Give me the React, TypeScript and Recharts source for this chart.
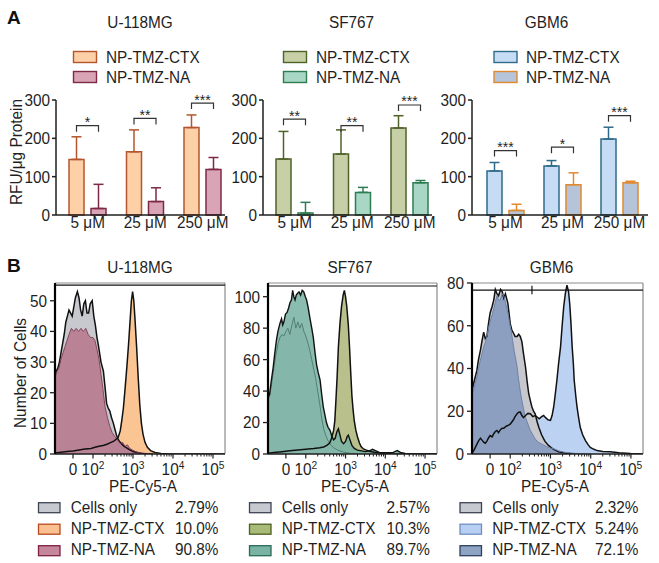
import { Area, Bar, BarChart, ComposedChart, ErrorBar, LabelList, ReferenceLine, XAxis, YAxis } from 'recharts'
import type { ReactNode } from 'react'

const FONT = '"Liberation Sans", Arial, Helvetica, sans-serif'
const INK = '#1f1f1f'
const FS = 16.5
const SX = 0.93
const BAR_GAP = 7

const cellLines = ['U-118MG', 'SF767', 'GBM6']
const doses = ['5 μM', '25 μM', '250 μM']
const treatments = ['NP-TMZ-CTX', 'NP-TMZ-NA']
const flowGroups = ['Cells only', 'NP-TMZ-CTX', 'NP-TMZ-NA']

// panel A: RFU/µg protein (mean, upper SD), bracket height, significance
const u118Ctx = [145, 165, 228]
const u118CtxErr = [59, 57, 33]
const u118Na = [17, 35, 119]
const u118NaErr = [63, 36, 31]
const u118Bracket = [233, 252, 292]
const u118Stars = ['*', '**', '***']

const sf767Ctx = [146, 159, 227]
const sf767CtxErr = [72, 63, 32]
const sf767Na = [5, 59, 84]
const sf767NaErr = [28, 13, 6]
const sf767Bracket = [250, 233, 287]
const sf767Stars = ['**', '**', '***']

const gbm6Ctx = [115, 128, 198]
const gbm6CtxErr = [22, 14, 31]
const gbm6Na = [12, 79, 84]
const gbm6NaErr = [16, 31, 4]
const gbm6Bracket = [168, 177, 259]
const gbm6Stars = ['***', '*', '***']

// panel B: PE-Cy5-A histograms, [display decade, cell count]
const u118CellsHist = [
  [1.05, 26], [1.08, 27], [1.12, 28], [1.16, 30], [1.2, 33], [1.24, 36], [1.28, 39], [1.32, 43], [1.36, 45],
  [1.4, 47], [1.44, 46], [1.48, 45], [1.52, 48], [1.56, 51], [1.61, 53], [1.65, 51], [1.69, 47], [1.73, 45],
  [1.77, 49], [1.81, 50], [1.85, 46], [1.89, 46], [1.93, 49], [1.98, 50], [2.02, 45], [2.06, 42], [2.1, 38],
  [2.14, 35], [2.2, 30], [2.26, 27], [2.3, 22], [2.34, 16.5], [2.38, 15], [2.42, 14], [2.46, 12], [2.51, 10],
  [2.55, 8], [2.59, 6], [2.64, 4.5], [2.7, 3.5], [2.78, 2.5], [2.9, 1.5], [3.0, 0.8], [3.2, 0.2], [3.5, 0],
]
const u118CtxHist = [
  [1.05, 0.3], [1.2, 0.6], [1.35, 0.8], [1.5, 1], [1.65, 1.3], [1.8, 1.6], [1.95, 1.8], [2.05, 2.2], [2.15, 2.5],
  [2.25, 2.8], [2.35, 3.2], [2.45, 3.8], [2.52, 4.2], [2.58, 4.8], [2.63, 5.5], [2.68, 7.5], [2.72, 11], [2.76, 15],
  [2.8, 21], [2.85, 29], [2.89, 36], [2.93, 44], [2.96, 50], [2.99, 53], [3.02, 50], [3.05, 44], [3.09, 35],
  [3.13, 25], [3.17, 16], [3.21, 10], [3.25, 6.5], [3.3, 3.8], [3.36, 2.2], [3.44, 1.1], [3.55, 0.5], [3.7, 0.2],
  [3.9, 0], [5.3, 0],
]
const u118NaHist = [
  [1.05, 25], [1.1, 27], [1.15, 28], [1.2, 31], [1.25, 33], [1.3, 35], [1.35, 37], [1.4, 39], [1.46, 41],
  [1.52, 40], [1.58, 41], [1.64, 40], [1.7, 41], [1.76, 40], [1.82, 41], [1.88, 39], [1.94, 38], [2.0, 38],
  [2.05, 37], [2.1, 34], [2.15, 31], [2.2, 26], [2.25, 21], [2.3, 15.5], [2.36, 12], [2.42, 9], [2.48, 7],
  [2.55, 5.6], [2.62, 4.5], [2.68, 3.4], [2.74, 3.8], [2.8, 2.5], [2.86, 3], [2.92, 1.8], [3.0, 1.2], [3.1, 0.6],
  [3.3, 0.2], [3.5, 0],
]

const sf767CellsHist = [
  [1.05, 34], [1.1, 38], [1.15, 46], [1.2, 55], [1.25, 63], [1.3, 70], [1.35, 74], [1.4, 76], [1.45, 75],
  [1.5, 78], [1.55, 80], [1.6, 76], [1.65, 82], [1.7, 87], [1.75, 80], [1.8, 84], [1.85, 80], [1.9, 83],
  [1.95, 78], [2.0, 75], [2.05, 71], [2.1, 66], [2.15, 60], [2.2, 54], [2.25, 48], [2.3, 40], [2.35, 32],
  [2.4, 23], [2.45, 16], [2.5, 12], [2.55, 9], [2.62, 6], [2.7, 4], [2.8, 2.5], [2.95, 1.2], [3.1, 0.5], [3.3, 0],
]
const sf767CtxHist = [
  [1.05, 0.5], [1.2, 1], [1.4, 1.5], [1.6, 2], [1.8, 2.5], [2.0, 3], [2.2, 3.5], [2.35, 4], [2.45, 4.5],
  [2.53, 5.5], [2.6, 7], [2.65, 10], [2.7, 15], [2.73, 21], [2.76, 35], [2.79, 50], [2.82, 68], [2.86, 83],
  [2.9, 94], [2.94, 101], [2.97, 104], [3.0, 100], [3.03, 94], [3.07, 82], [3.1, 68], [3.13, 52], [3.16, 37],
  [3.19, 28], [3.22, 21], [3.26, 15], [3.3, 11], [3.35, 7], [3.39, 4.7], [3.45, 3.2], [3.51, 2.6], [3.6, 1.8],
  [3.75, 1], [3.9, 0.4], [4.2, 0], [5.3, 0],
]
const sf767NaHist = [
  [1.05, 36], [1.09, 38], [1.13, 46], [1.18, 55], [1.22, 64], [1.26, 72], [1.3, 78], [1.35, 83], [1.39, 86],
  [1.42, 82], [1.45, 84], [1.49, 89], [1.53, 90], [1.57, 93], [1.6, 96], [1.64, 98], [1.67, 104], [1.7, 100],
  [1.73, 98], [1.76, 101], [1.79, 102], [1.83, 103], [1.87, 101], [1.91, 104], [1.95, 103], [1.99, 100],
  [2.02, 98], [2.06, 93], [2.1, 87], [2.15, 80], [2.19, 74], [2.23, 65], [2.27, 57], [2.31, 52], [2.36, 47],
  [2.4, 38], [2.44, 30], [2.48, 25], [2.52, 20], [2.56, 17], [2.61, 15], [2.66, 11], [2.7, 9], [2.74, 10],
  [2.78, 14], [2.82, 16], [2.86, 12], [2.9, 8], [2.95, 6.5], [3.0, 8], [3.04, 11], [3.07, 12], [3.11, 9],
  [3.16, 5.5], [3.22, 3.5], [3.3, 2.5], [3.4, 2], [3.5, 1.5], [3.6, 2], [3.68, 3], [3.75, 2.2], [3.85, 1],
  [4.0, 0.8], [4.2, 1], [4.3, 2.2], [4.38, 1], [4.5, 0.4], [4.7, 0], [5.3, 0],
]

const gbm6CellsHist = [
  [1.05, 30], [1.09, 33], [1.13, 36], [1.17, 39], [1.21, 44], [1.26, 48.6], [1.3, 53], [1.34, 57], [1.38, 54],
  [1.42, 55], [1.46, 61], [1.5, 66], [1.55, 69], [1.59, 72], [1.63, 77], [1.67, 75], [1.71, 74], [1.76, 77],
  [1.8, 76], [1.84, 73], [1.88, 75], [1.94, 70.6], [1.97, 66], [2.0, 61], [2.04, 58], [2.08, 56.6], [2.12, 55],
  [2.17, 55], [2.21, 56], [2.25, 55], [2.29, 52.6], [2.33, 47], [2.38, 40.7], [2.42, 34], [2.46, 28.2],
  [2.5, 25], [2.54, 22], [2.58, 20], [2.62, 18.8], [2.67, 15], [2.71, 12.5], [2.78, 9], [2.86, 6], [2.95, 4],
  [3.05, 2.5], [3.2, 1], [3.4, 0.3], [3.6, 0],
]
const gbm6CtxHist = [
  [1.05, 0.5], [1.09, 1.5], [1.13, 3], [1.17, 4.5], [1.21, 6], [1.26, 7.4], [1.3, 6.5], [1.34, 5.5], [1.38, 5],
  [1.42, 6], [1.46, 7.5], [1.5, 8.6], [1.55, 8], [1.59, 9.5], [1.63, 10.5], [1.67, 11], [1.71, 10], [1.76, 11.5],
  [1.8, 12], [1.84, 12], [1.9, 13], [1.96, 13.5], [2.0, 14], [2.04, 15], [2.08, 16], [2.12, 17.5], [2.17, 18.8],
  [2.21, 19.5], [2.25, 19.6], [2.29, 18], [2.33, 17], [2.38, 18], [2.44, 19], [2.5, 18.8], [2.56, 17.5],
  [2.62, 18], [2.67, 17.3], [2.72, 16.5], [2.78, 17.5], [2.83, 18], [2.88, 17], [2.94, 16], [3.0, 15.7],
  [3.04, 18], [3.08, 22], [3.12, 28], [3.16, 34.5], [3.2, 42], [3.25, 50], [3.29, 60], [3.33, 69], [3.37, 75],
  [3.41, 79], [3.45, 76], [3.48, 70], [3.51, 61], [3.54, 50], [3.57, 42], [3.59, 34.5], [3.63, 27], [3.66, 22],
  [3.7, 17], [3.74, 12.5], [3.8, 9], [3.87, 6.3], [3.93, 4.5], [3.99, 3.1], [4.08, 2.2], [4.16, 1.6], [4.3, 1.2],
  [4.49, 1], [4.7, 0.6], [4.99, 0.2], [5.3, 0],
]
const gbm6NaHist = [
  [1.05, 28], [1.09, 30], [1.13, 33], [1.17, 36], [1.21, 40], [1.26, 44], [1.3, 47], [1.34, 50], [1.38, 52],
  [1.42, 55], [1.46, 59], [1.5, 62], [1.55, 65], [1.59, 68], [1.63, 71], [1.67, 74], [1.71, 72], [1.75, 72],
  [1.8, 75], [1.84, 74], [1.88, 71], [1.94, 66], [1.98, 62], [2.02, 58], [2.06, 53], [2.1, 48], [2.14, 44],
  [2.17, 41], [2.2, 36], [2.23, 32], [2.26, 28], [2.29, 25], [2.33, 21], [2.38, 17], [2.44, 14], [2.5, 11],
  [2.56, 9], [2.62, 7], [2.7, 5.5], [2.8, 4.5], [2.9, 3.5], [3.0, 2.8], [3.08, 2.4], [3.2, 1.5], [3.35, 0.8],
  [3.6, 0.3], [4.0, 0],
]

const u118Pct = ['2.79%', '10.0%', '90.8%']
const sf767Pct = ['2.57%', '10.3%', '89.7%']
const gbm6Pct = ['2.32%', '5.24%', '72.1%']

// x axis of the histograms: "0", 10^2 ... 10^5
const decadeTicks = [1.5, 2, 3, 4, 5]
const decadeExps = ['', '2', '3', '4', '5']
const minorTicks = [2, 3, 4].flatMap((d) => [2, 3, 4, 5, 6, 7, 8, 9].map((k) => d + Math.log10(k)))

type Row = {
  dose: string
  ctx: number
  na: number
  ctxErr: [number, number]
  naErr: [number, number]
  bracket: number
  stars: string
}

const makeRows = (ctx: number[], ctxErr: number[], na: number[], naErr: number[], br: number[], st: string[]): Row[] =>
  doses.map((dose, i) => ({
    dose,
    ctx: ctx[i],
    na: na[i],
    ctxErr: [0, ctxErr[i]],
    naErr: [0, naErr[i]],
    bracket: br[i],
    stars: st[i],
  }))

const barPanels = [
  {
    rows: makeRows(u118Ctx, u118CtxErr, u118Na, u118NaErr, u118Bracket, u118Stars),
    left: 0, width: 230, pad: { left: 3, right: -6.5 },
    fills: ['#fdd0a8', '#d9a4b5'], lines: ['#b4552c', '#7e2a47'],
    title: 140, swatchX: 73.5, textX: 106,
  },
  {
    rows: makeRows(sf767Ctx, sf767CtxErr, sf767Na, sf767NaErr, sf767Bracket, sf767Stars),
    left: 207, width: 230, pad: { left: 3, right: -6.5 },
    fills: ['#c7cfa6', '#a8d7c6'], lines: ['#4f6328', '#2e7d52'],
    title: 351.5, swatchX: 283.5, textX: 316,
  },
  {
    rows: makeRows(gbm6Ctx, gbm6CtxErr, gbm6Na, gbm6NaErr, gbm6Bracket, gbm6Stars),
    left: 416, width: 237, pad: { left: 5, right: 0 },
    fills: ['#c6dcf5', '#b5c4d9'], lines: ['#2e6b88', '#e0892f'],
    title: 546.5, swatchX: 494, textX: 526,
  },
]

const flowPanels = [
  {
    hists: [u118CellsHist, u118CtxHist, u118NaHist], pct: u118Pct,
    left: 0, width: 230, yMax: 55.8, yTicks: [0, 10, 20, 30, 40, 50], gate: 55.1, gateAt: 2.35, gateLen: 1.3,
    fills: ['#c8c9ce', '#fbc593', '#b87d90'], opac: [1, 1, 0.92],
    lines: ['#111', '#111', '#7d3a52'], lineW: [1.5, 1.5, 0.9],
    sw: ['#c6c9cf', '#fbc08f', '#c6869b'], swLine: ['#3d4453', '#b84a1d', '#7f2140'],
    title: 140, swatchX: 38.5, textX: 70.7, pctX: 218.5, axisMid: 143,
  },
  {
    hists: [sf767CellsHist, sf767CtxHist, sf767NaHist], pct: sf767Pct,
    left: 213, width: 229, yMax: 108.7, yTicks: [0, 20, 40, 60, 80, 100], gate: 106.8, gateAt: 2.38, gateLen: 2.6,
    fills: ['#c8c9ce', '#b9c08c', '#7ab3a5'], opac: [1, 1, 0.88],
    lines: ['#557f74', '#111', '#111'], lineW: [1, 1.5, 1.4],
    sw: ['#c6c9cf', '#a9bb78', '#79b3a3'], swLine: ['#3d4453', '#4d5e22', '#2a6a58'],
    title: 350, swatchX: 249.5, textX: 281.7, pctX: 430, axisMid: 355,
  },
  {
    hists: [gbm6CellsHist, gbm6CtxHist, gbm6NaHist], pct: gbm6Pct,
    left: 417, width: 231, yMax: 80, yTicks: [0, 20, 40, 60, 80], gate: 76.7, gateAt: 2.54, gateLen: 2,
    fills: ['#c6c8cd', '#bcd2f2', '#8a9dc0'], opac: [1, 1, 0.95],
    lines: ['#111', '#111', '#6e82a8'], lineW: [1.5, 1.5, 1],
    sw: ['#c6c9cf', '#b7cff2', '#8fa3c3'], swLine: ['#3d4453', '#6f8fc2', '#2f3f5f'],
    title: 551.5, swatchX: 460, textX: 492.3, pctX: 638.5, axisMid: 555,
  },
]

// draw order: CTX fill, cells fill, NA fill, then outlines
const layers: [number, 'fill' | 'line'][] = [
  [1, 'fill'], [0, 'fill'], [2, 'fill'], [0, 'line'], [2, 'line'], [1, 'line'],
]

// text slightly narrowed, like the squeezed figure
function SText({
  x, y, anchor = 'start', rotate = 0, children,
}: { x: number; y: number; anchor?: string; rotate?: number; children: ReactNode }) {
  return (
    <g transform={`translate(${x},${y}) rotate(${rotate}) scale(${SX},1)`}>
      <text x={0} y={0} textAnchor={anchor as any} fontSize={FS} fontFamily={FONT} fill={INK}>
        {children}
      </text>
    </g>
  )
}

function makeBracket(rows: Row[]) {
  return (p: any) => {
    const vb = p.viewBox ?? p
    const x = Number(vb.x)
    const y = Number(vb.y)
    const w = Number(vb.width)
    const h = Number(vb.height)
    const row = rows[p.index] ?? rows.find((r) => r.ctx === p.value)
    if (!row || !h) return null
    const base = y + h
    const by = base - (row.bracket * h) / row.ctx
    const x1 = x + w / 2
    const x2 = x1 + w + BAR_GAP
    return (
      <g>
        <path d={`M${x1},${by + 6}V${by}H${x2}V${by + 6}`} fill="none" stroke="#333" strokeWidth={1.2} />
        <text x={(x1 + x2) / 2} y={by + 1.5} textAnchor="middle" fontSize={14} fontFamily={FONT} fill={INK}>
          {row.stars}
        </text>
      </g>
    )
  }
}

const yTick = (p: any) => (
  <SText x={p.x} y={p.y + 5.9} anchor="end">{p.payload.value}</SText>
)

function RfuChart({ panel }: { panel: (typeof barPanels)[number] }) {
  const { rows, fills, lines } = panel
  return (
    <div style={{ position: 'absolute', left: panel.left, top: 90 }}>
      <BarChart
        width={panel.width}
        height={150}
        data={rows}
        margin={{ top: 10, right: 5, bottom: 0, left: 0 }}
        barSize={15}
        barGap={BAR_GAP}
      >
        <XAxis
          dataKey="dose"
          height={25}
          padding={panel.pad}
          interval={0}
          tickLine={false}
          tickSize={0}
          tickMargin={0}
          axisLine={{ stroke: INK, strokeWidth: 1.5 }}
          tick={(p: any) => <SText x={p.x} y={p.y + 12.5} anchor="middle">{p.payload.value}</SText>}
        />
        <YAxis
          width={56}
          domain={[0, 300]}
          ticks={[0, 100, 200, 300]}
          tickSize={4}
          tickMargin={2}
          axisLine={{ stroke: INK, strokeWidth: 1.5 }}
          tickLine={{ stroke: INK, strokeWidth: 1.5 }}
          tick={yTick}
        />
        <Bar dataKey="ctx" fill={fills[0]} stroke={lines[0]} strokeWidth={1.5} isAnimationActive={false}>
          <ErrorBar dataKey="ctxErr" direction="y" width={5} stroke={lines[0]} strokeWidth={1.5} />
          <LabelList dataKey="ctx" content={makeBracket(rows)} />
        </Bar>
        <Bar dataKey="na" fill={fills[1]} stroke={lines[1]} strokeWidth={1.5} isAnimationActive={false}>
          <ErrorBar dataKey="naErr" direction="y" width={5} stroke={lines[1]} strokeWidth={1.5} />
        </Bar>
      </BarChart>
    </div>
  )
}

function FlowTick(p: any) {
  const { x, y, payload } = p
  const i = decadeTicks.indexOf(payload.value)
  if (i < 0) return <line x1={x} x2={x} y1={y} y2={y + 2.5} stroke={INK} strokeWidth={1} />
  const exp = decadeExps[i]
  return (
    <g>
      <line x1={x} x2={x} y1={y} y2={y + 4.5} stroke={INK} strokeWidth={1.2} />
      <SText x={x} y={y + 21} anchor="middle">
        {exp ? (
          <>
            10<tspan dy={-6.5} fontSize={11}>{exp}</tspan>
          </>
        ) : (
          '0'
        )}
      </SText>
    </g>
  )
}

function FlowChart({ panel }: { panel: (typeof flowPanels)[number] }) {
  return (
    <div style={{ position: 'absolute', left: panel.left, top: 273 }}>
      <ComposedChart width={panel.width} height={219} margin={{ top: 10, right: 5, bottom: 0, left: 0 }}>
        <XAxis
          dataKey="v"
          type="number"
          domain={[1.05, 5.3]}
          allowDataOverflow
          ticks={[...decadeTicks, ...minorTicks]}
          interval={0}
          height={38}
          tickLine={false}
          tickSize={0}
          tickMargin={0}
          axisLine={{ stroke: INK, strokeWidth: 1.5 }}
          tick={(p: any) => <FlowTick {...p} />}
        />
        <YAxis
          type="number"
          width={55}
          domain={[0, panel.yMax]}
          allowDataOverflow
          ticks={panel.yTicks}
          interval={0}
          tickSize={5}
          tickMargin={3}
          axisLine={{ stroke: '#000', strokeWidth: 2.2 }}
          tickLine={{ stroke: INK, strokeWidth: 1.3 }}
          tick={yTick}
        />
        {layers.map(([s, kind]) => (
          <Area
            key={`${s}-${kind}`}
            data={panel.hists[s].map(([v, c]) => ({ v, c }))}
            dataKey="c"
            type="linear"
            fill={kind === 'fill' ? panel.fills[s] : 'none'}
            fillOpacity={kind === 'fill' ? panel.opac[s] : 0}
            stroke={kind === 'line' ? panel.lines[s] : 'none'}
            strokeWidth={panel.lineW[s]}
            dot={false}
            activeDot={false}
            isAnimationActive={false}
          />
        ))}
        <ReferenceLine y={panel.yMax} stroke="#8c8c8c" strokeWidth={1.2} />
        <ReferenceLine x={5.3} stroke="#8c8c8c" strokeWidth={1.2} />
        <ReferenceLine
          segment={[{ x: 1.05, y: panel.gate }, { x: 5.3, y: panel.gate }]}
          stroke="#111"
          strokeWidth={1.2}
        />
        <ReferenceLine
          segment={[{ x: panel.gateAt, y: panel.gate + panel.gateLen }, { x: panel.gateAt, y: panel.gate - panel.gateLen }]}
          stroke="#111"
          strokeWidth={1.2}
        />
      </ComposedChart>
    </div>
  )
}

function Overlay() {
  return (
    <svg
      width={659}
      height={563}
      style={{ position: 'absolute', left: 0, top: 0, pointerEvents: 'none' }}
    >
      <text x={7} y={23.5} fontSize={19} fontWeight="bold" fontFamily={FONT} fill="#111">A</text>
      <text x={7} y={272} fontSize={19} fontWeight="bold" fontFamily={FONT} fill="#111">B</text>

      {barPanels.map((p, i) => (
        <g key={`a${i}`}>
          <SText x={p.title} y={28} anchor="middle">{cellLines[i]}</SText>
          {treatments.map((t, j) => (
            <g key={t}>
              <rect x={p.swatchX} y={51.5 + j * 20} width={23} height={11} fill={p.fills[j]} stroke={p.lines[j]} strokeWidth={1.4} />
              <SText x={p.textX} y={63 + j * 20}>{t}</SText>
            </g>
          ))}
        </g>
      ))}
      <SText x={22} y={152} rotate={-90} anchor="middle">RFU/μg Protein</SText>

      {flowPanels.map((p, i) => (
        <g key={`b${i}`}>
          <SText x={p.title} y={273} anchor="middle">{cellLines[i]}</SText>
          <SText x={p.axisMid} y={491.5} anchor="middle">PE-Cy5-A</SText>
          {flowGroups.map((g, j) => (
            <g key={g}>
              <rect
                x={p.swatchX}
                y={502.7 + j * 21.5}
                width={21.5}
                height={10}
                fill={p.sw[j]}
                stroke={p.swLine[j]}
                strokeWidth={1.3}
              />
              <SText x={p.textX} y={512.8 + j * 21.2}>{g}</SText>
              <SText x={p.pctX} y={512.8 + j * 21.2} anchor="end">{p.pct[j]}</SText>
            </g>
          ))}
        </g>
      ))}
      <SText x={25.5} y={373} rotate={-90} anchor="middle">Number of Cells</SText>
    </svg>
  )
}

export default function App() {
  return (
    <div style={{ position: 'absolute', left: 0, top: 0, width: 659, height: 563, background: '#fff' }}>
      {barPanels.map((p, i) => (
        <RfuChart key={i} panel={p} />
      ))}
      {flowPanels.map((p, i) => (
        <FlowChart key={i} panel={p} />
      ))}
      <Overlay />
    </div>
  )
}
